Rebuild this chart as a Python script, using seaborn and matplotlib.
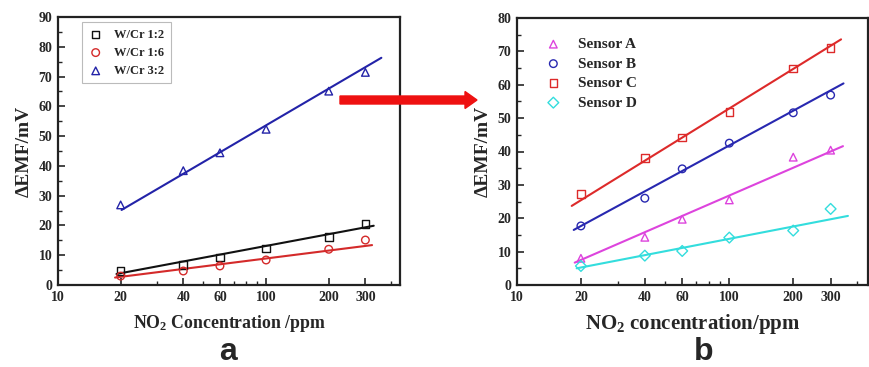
import numpy as np
import pandas as pd
import matplotlib
matplotlib.use("Agg")
import matplotlib.pyplot as plt
from matplotlib.ticker import FixedLocator, NullFormatter, LogLocator, MultipleLocator, FixedFormatter
from matplotlib.patches import FancyArrow
import seaborn as sns

sns.set_theme(style="white")
plt.rcParams['font.family'] = ['Liberation Serif', 'DejaVu Serif']
plt.rcParams['font.weight'] = 'bold'
plt.rcParams['mathtext.fontset'] = 'custom'
plt.rcParams['mathtext.rm'] = 'Liberation Serif:bold'
plt.rcParams['mathtext.bf'] = 'Liberation Serif:bold'
plt.rcParams['mathtext.it'] = 'Liberation Serif:italic:bold'

# ---- data ----
conc = [20, 40, 60, 100, 200, 300]
xticks = [10, 20, 40, 60, 100, 200, 300]
# panel a
labels_a = ["W/Cr 1:2", "W/Cr 1:6", "W/Cr 3:2"]
wcr_12 = [4.7, 6.7, 9.3, 12.2, 16.1, 20.5]
wcr_16 = [3.0, 4.7, 6.4, 8.4, 12.0, 15.1]
wcr_32 = [26.9, 38.4, 44.4, 52.3, 65.1, 71.4]
# fitted lines of panel a: start / end points
fit_a_x0 = [19.1, 18.8, 20.2]
fit_a_y0 = [3.7, 2.5, 25.2]
fit_a_x1 = [329, 323, 358]
fit_a_y1 = [19.9, 13.4, 76.3]
# panel b
labels_b = ["Sensor A", "Sensor B", "Sensor C", "Sensor D"]
sensor_a = [8.0, 14.3, 19.7, 25.5, 38.3, 40.4]
sensor_b = [17.7, 26.0, 34.8, 42.5, 51.6, 56.9]
sensor_c = [27.3, 38.1, 44.2, 51.9, 64.9, 71.1]
sensor_d = [5.7, 8.8, 10.2, 14.2, 16.3, 22.8]
fit_b_x0 = [18.7, 18.5, 18.1, 19.1]
fit_b_y0 = [6.7, 16.5, 23.7, 5.0]
fit_b_x1 = [343, 345, 336, 362]
fit_b_y1 = [41.6, 60.4, 73.6, 20.7]

colors_a = ["#111111", "#d42a2a", "#2323a8"]
markers_a = ["s", "o", "^"]
colors_b = ["#dd44dd", "#2828b0", "#dd2a2a", "#33dddd"]
markers_b = ["^", "o", "s", "D"]

fig = plt.figure(figsize=(8.69, 3.67), dpi=100)
ax1 = fig.add_axes([58/869, 82/367, 342/869, 268/367])
ax2 = fig.add_axes([517/869, 82/367, 351/869, 267/367])

def draw(ax, series, labels, colors, markers, x0, y0, x1, y1):
    rows = []
    for lab, vals in zip(labels, series):
        for c, v in zip(conc, vals):
            rows.append((lab, c, v))
    df = pd.DataFrame(rows, columns=["series", "conc", "emf"])
    fits = []
    for lab, a, b, c, d in zip(labels, x0, y0, x1, y1):
        fits.append((lab, a, b))
        fits.append((lab, c, d))
    fdf = pd.DataFrame(fits, columns=["series", "conc", "emf"])
    pal = dict(zip(labels, colors))
    sns.lineplot(data=fdf, x="conc", y="emf", hue="series", palette=pal,
                 ax=ax, legend=False, linewidth=1.5, sort=False)
    for lab, col, mk in zip(labels, colors, markers):
        sub = df[df.series == lab]
        ax.scatter(sub.conc, sub.emf, marker=mk, s=30, facecolors="none",
                   edgecolors=col, linewidths=1.0, label=lab, zorder=3)
    ax.set_xscale("log")

draw(ax1, [wcr_12, wcr_16, wcr_32], labels_a, colors_a, markers_a,
     fit_a_x0, fit_a_y0, fit_a_x1, fit_a_y1)
draw(ax2, [sensor_a, sensor_b, sensor_c, sensor_d], labels_b, colors_b, markers_b,
     fit_b_x0, fit_b_y0, fit_b_x1, fit_b_y1)

for ax, ymax, xmax in [(ax1, 90, 440), (ax2, 80, 450)]:
    ax.set_xlim(10, xmax)
    ax.set_ylim(0, ymax)
    ax.xaxis.set_major_locator(FixedLocator(xticks))
    ax.xaxis.set_major_formatter(FixedFormatter([str(t) for t in xticks]))
    ax.xaxis.set_minor_locator(LogLocator(base=10, subs=[3, 4, 5, 7, 8, 9]))
    ax.xaxis.set_minor_formatter(NullFormatter())
    ax.yaxis.set_major_locator(MultipleLocator(10))
    ax.yaxis.set_minor_locator(MultipleLocator(5))
    ax.tick_params(axis="both", which="major", direction="in", length=5, width=1.2,
                   labelsize=10, pad=4, bottom=True, left=True, top=False, right=False)
    ax.tick_params(axis="both", which="minor", direction="in", length=3, width=1.0,
                   bottom=True, left=True, top=False, right=False)
    for lbl in ax.get_xticklabels() + ax.get_yticklabels():
        lbl.set_fontweight("bold")
    for sp in ax.spines.values():
        sp.set_color("#222222")
        sp.set_linewidth(1.6)
    ax.set_ylabel("ΔEMF/mV", fontsize=14, fontweight="bold", labelpad=4)

ax1.set_xlabel(r"NO$_\mathbf{2}$ Concentration /ppm", fontsize=12.8, fontweight="bold", labelpad=7)
ax2.set_xlabel(r"NO$_\mathbf{2}$ concentration/ppm", fontsize=15, fontweight="bold", labelpad=6)

leg1 = ax1.legend(loc="upper left", bbox_to_anchor=(0.07, 0.98), frameon=True,
                  fancybox=False, edgecolor="#aaaaaa", prop={"weight": "bold", "size": 9},
                  handlelength=1.2, handletextpad=0.9, borderpad=0.5, labelspacing=0.5,
                  borderaxespad=0.0)
leg1.get_frame().set_linewidth(0.8)
leg2 = ax2.legend(loc="upper left", bbox_to_anchor=(0.06, 0.95), frameon=False,
                  prop={"weight": "bold", "size": 11}, handlelength=1.2,
                  handletextpad=1.0, labelspacing=0.38, borderaxespad=0.0)

fig.patches.append(FancyArrow(340/869, 1 - 100/367, 125/869, 0, width=8/367,
                              head_width=17/367, head_length=12/869, length_includes_head=False,
                              transform=fig.transFigure, color="#ee1111", figure=fig))

fig.text(228/869, 1 - 360/367, "a", fontsize=23, fontweight="bold",
         family=["Liberation Sans", "DejaVu Sans"], ha="center", va="baseline")
fig.text(704/869, 1 - 360/367, "b", fontsize=23, fontweight="bold",
         family=["Liberation Sans", "DejaVu Sans"], ha="center", va="baseline")

fig.savefig("out.png", dpi=100)
